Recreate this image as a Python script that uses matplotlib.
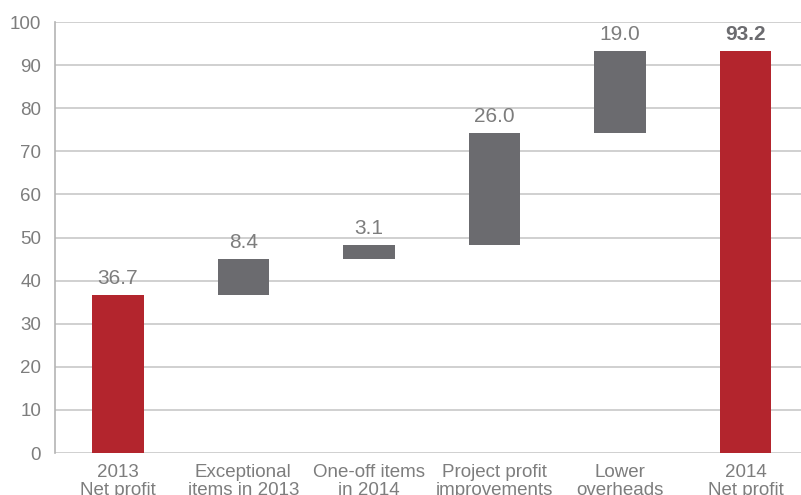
import matplotlib
matplotlib.use("Agg")
import matplotlib.pyplot as plt
import numpy as np

categories = ["2013\nNet profit", "Exceptional\nitems in 2013", "One-off items\nin 2014",
              "Project profit\nimprovements", "Lower\noverheads", "2014\nNet profit"]
values = [36.7, 8.4, 3.1, 26.0, 19.0, 93.2]
is_total = [True, False, False, False, False, True]
labels = ["36.7", "8.4", "3.1", "26.0", "19.0", "93.2"]

plt.rcParams['font.family'] = ['Liberation Sans', 'DejaVu Sans']
fig = plt.figure(figsize=(8.01, 4.95), dpi=100)
ax = fig.add_axes([55/801, 1-453/495, 753.5/801, 431/495])

red = "#b3252d"
grey = "#6b6b6f"
txt = "#7d7d7d"

bottoms = []
running = 0.0
for v, t in zip(values, is_total):
    if t:
        bottoms.append(0.0)
        running = v
    else:
        bottoms.append(running)
        running += v
x = np.arange(len(values))
colors = [red if t else grey for t in is_total]
ax.bar(x, values, bottom=bottoms, width=0.41, color=colors, zorder=3)

for i, (v, b, lab, t) in enumerate(zip(values, bottoms, labels, is_total)):
    ax.text(i, b + v + 1.6, lab, ha='center', va='bottom', fontsize=15,
            color=txt if i < 5 else "#6b6b6f", fontweight='bold' if i == 5 else 'normal')

ax.set_xlim(-0.5, 5.5)
ax.set_ylim(0, 100)
ax.set_yticks(np.arange(0, 101, 10))
ax.set_xticks(x)
ax.set_xticklabels(categories, linespacing=1.05)
ax.tick_params(axis='both', length=0, labelsize=13.5, colors=txt)
ax.tick_params(axis='x', pad=8)
ax.tick_params(axis='y', pad=10)
ax.grid(axis='y', color='#c8c8c8', linewidth=1.2, zorder=0)
for s in ['top', 'right', 'bottom']:
    ax.spines[s].set_visible(False)
ax.spines['left'].set_color('#b4b4b4')
ax.spines['left'].set_linewidth(1.2)

fig.savefig("out.png", dpi=100)
